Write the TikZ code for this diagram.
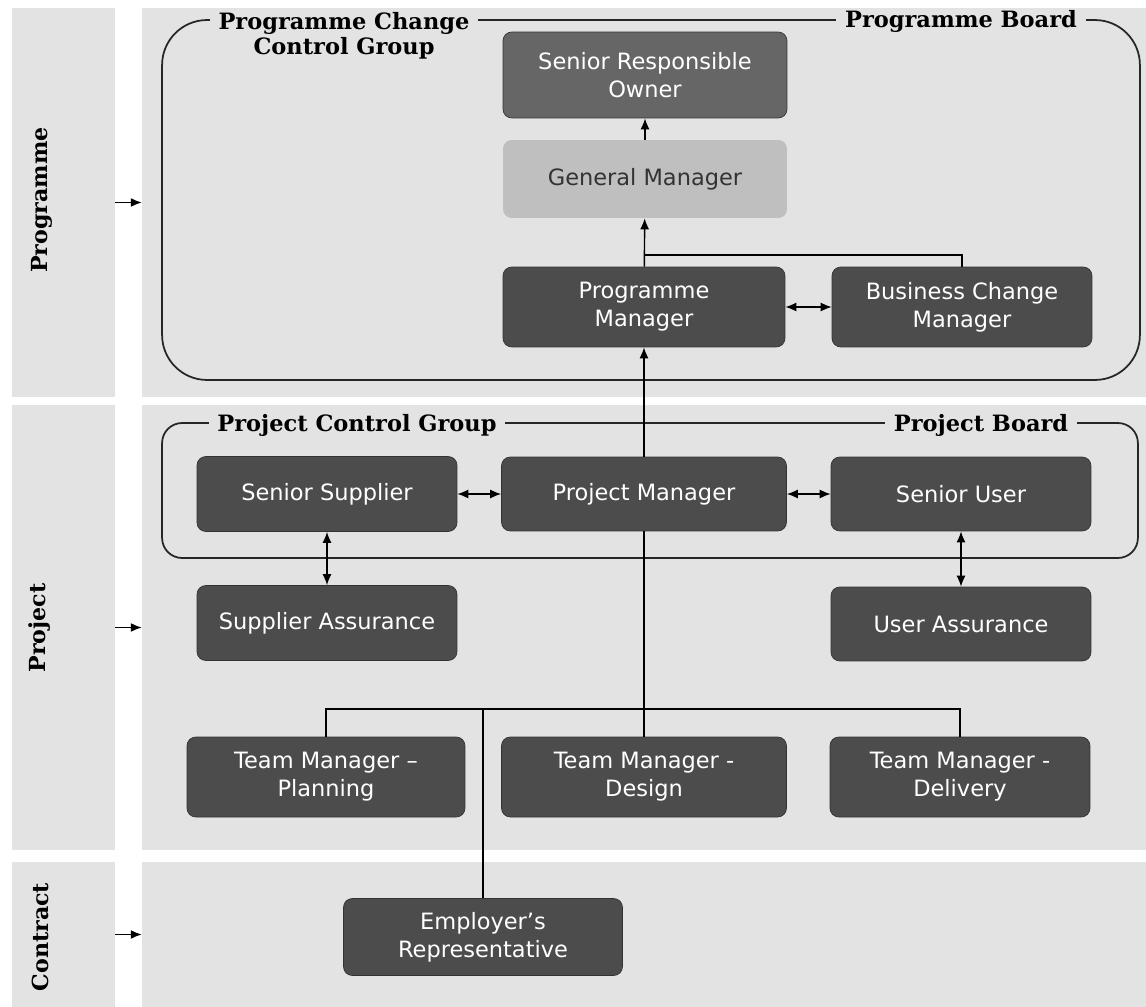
\documentclass[tikz,border=0pt]{standalone}
\usepackage{fontspec}
\setmainfont{DejaVu Serif}
\setsansfont{DejaVu Sans}
\usetikzlibrary{arrows.meta}

\definecolor{bandgray}{gray}{0.89}
\definecolor{rolegray}{gray}{0.30}

\begin{document}
\begin{tikzpicture}[
    x=0.02cm, y=-0.02cm,
    band/.style={rectangle, fill=bandgray, draw=none, inner sep=0pt},
    side label/.style={rotate=90, font=\bfseries\fontsize{12.6}{14}\selectfont},
    group box/.style={rectangle, draw=black!85, line width=1pt, inner sep=0pt},
    group label/.style={fill=bandgray, inner xsep=5pt, inner ysep=1pt, align=center, font=\bfseries\fontsize{12.8}{14.3}\selectfont},
    role node/.style={rectangle, rounded corners=5pt, fill=rolegray, draw=black!80, text=white, align=center,
                      minimum width=5.2cm, minimum height=1.5cm, font=\sffamily\fontsize{12.8}{16}\selectfont},
    link/.style={line width=0.8pt},
    up arrow/.style={link, -{Latex[length=2.2mm,width=1.8mm]}},
    both arrow/.style={link, {Latex[length=2.2mm,width=1.8mm]}-{Latex[length=2.2mm,width=1.8mm]}},
  ]
  \useasboundingbox (0,0) rectangle (1146,1007);

  % bands
  \node[band, minimum width=2.06cm, minimum height=7.78cm] (lprog) at (63.5,202.5) {};
  \node[band, minimum width=2.06cm, minimum height=8.9cm] (lproj) at (63.5,627.5) {};
  \node[band, minimum width=2.06cm, minimum height=2.9cm] (lcon) at (63.5,934.5) {};
  \node[band, minimum width=20.08cm, minimum height=7.78cm] (rprog) at (644,202.5) {};
  \node[band, minimum width=20.08cm, minimum height=8.9cm] (rproj) at (644,627.5) {};
  \node[band, minimum width=20.08cm, minimum height=2.9cm] (rcon) at (644,934.5) {};

  \node[side label] (progtxt) at (42,200) {Programme};
  \node[side label] (projtxt) at (40,628) {Project};
  \node[side label] (contxt) at (40,937) {Contract};

  \draw[up arrow] (lprog.east) -- (rprog.west);
  \draw[up arrow] (lproj.east) -- (rproj.west);
  \draw[up arrow] (lcon.east) -- (rcon.west);

  % groups
  \node[group box, rounded corners=0.9cm, minimum width=19.56cm, minimum height=7.2cm] (progbox) at (651,200) {};
  \node[group box, rounded corners=0.4cm, minimum width=19.52cm, minimum height=2.7cm] (projbox) at (650,490.5) {};

  \node[group label, anchor=north] (pcglabel) at (344,10) {Programme Change\\Control Group};
  \node[group label, anchor=base] (pblabel) at (961,28) {Programme Board};
  \node[group label, anchor=base] (jcglabel) at (357,431) {Project Control Group};
  \node[group label, anchor=base] (jblabel) at (981,431) {Project Board};

  % roles
  \node[role node, fill=black!60, minimum width=5.68cm, minimum height=1.72cm] (sro) at (645,75) {Senior Responsible\\Owner};
  \node[role node, fill=black!25, draw=none, text=black!80, minimum width=5.68cm, minimum height=1.56cm] (gm) at (645,179) {General Manager};
  \node[role node, minimum width=5.64cm, minimum height=1.6cm] (pgm) at (644,307) {Programme\\Manager};
  \node[role node, minimum height=1.6cm] (bcm) at (962,307) {Business Change\\Manager};

  \node[role node] (ss) at (327,494) {Senior Supplier};
  \node[role node, minimum width=5.7cm, minimum height=1.48cm] (pjm) at (644,494) {Project Manager};
  \node[role node, minimum height=1.48cm] (su) at (961,494) {Senior User};
  \node[role node] (sa) at (327,623) {Supplier Assurance};
  \node[role node, minimum height=1.48cm] (ua) at (961,624) {User Assurance};

  \node[role node, minimum width=5.56cm, minimum height=1.6cm] (tmp) at (326,777) {Team Manager –\\Planning};
  \node[role node, minimum width=5.7cm, minimum height=1.6cm] (tmd) at (644,777) {Team Manager -\\Design};
  \node[role node, minimum height=1.6cm] (tmdel) at (960,777) {Team Manager -\\Delivery};
  \node[role node, minimum width=5.58cm, minimum height=1.54cm] (er) at (483,937) {Employer’s\\Representative};

  % links
  \coordinate (pgjoin) at (644,255);
  \coordinate (bus) at (326,709);

  \draw[up arrow] (gm) -- (sro);
  \draw[up arrow] (pgm) -- (gm);
  \draw[link] (bcm.north) |- (pgjoin);
  \draw[both arrow] (pgm) -- (bcm);
  \draw[up arrow] (pjm) -- (pgm);
  \draw[both arrow] (ss) -- (pjm);
  \draw[both arrow] (pjm) -- (su);
  \draw[both arrow] (ss) -- (sa);
  \draw[both arrow] (su) -- (ua);
  \draw[link] (pjm) -- (tmd);
  \draw[link] (tmp.north) -- (bus) -| (tmdel.north);
  \draw[link] (er.north) -- (er.north |- bus);
\end{tikzpicture}
\end{document}
